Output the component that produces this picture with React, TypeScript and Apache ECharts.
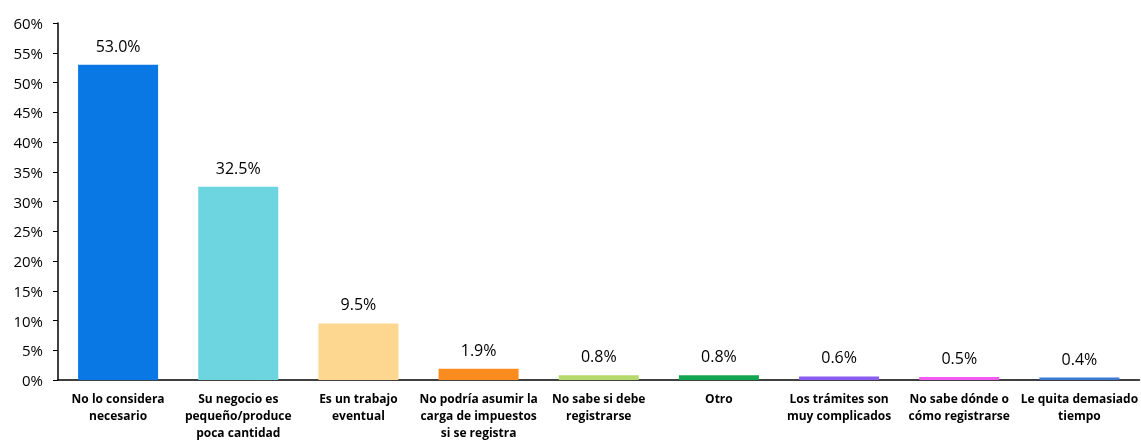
import React, { useEffect, useRef } from "react";
import * as echarts from "echarts";

const categories = [
  "No lo considera\nnecesario",
  "Su negocio es\npequeño/produce\npoca cantidad",
  "Es un trabajo\neventual",
  "No podría asumir la\ncarga de impuestos\nsi se registra",
  "No sabe si debe\nregistrarse",
  "Otro",
  "Los trámites son\nmuy complicados",
  "No sabe dónde o\ncómo registrarse",
  "Le quita demasiado\ntiempo",
];
const values = [53.0, 32.5, 9.5, 1.9, 0.8, 0.8, 0.6, 0.5, 0.4];
const colors = [
  "#0A78E4",
  "#6DD5E0",
  "#FDD78F",
  "#F98B1F",
  "#B5D96B",
  "#12A650",
  "#8A5CEF",
  "#F15BF0",
  "#3C78D0",
];

export default function App() {
  const ref = useRef<HTMLDivElement>(null);
  useEffect(() => {
    if (!ref.current) return;
    const chart = echarts.init(ref.current, undefined, { renderer: "svg" });
    chart.setOption({
      animation: false,
      grid: { left: 58, right: 0, top: 23, bottom: 58, containLabel: false },
      xAxis: {
        type: "category",
        data: categories,
        axisLine: { lineStyle: { color: "#000", width: 1.5 } },
        axisTick: { show: false },
        axisLabel: {
          interval: 0,
          fontFamily: "Open Sans",
          fontWeight: "bold",
          fontSize: 12,
          lineHeight: 17,
          color: "#000",
          margin: 10,
        },
      },
      yAxis: {
        type: "value",
        min: 0,
        max: 60,
        interval: 5,
        splitLine: { show: false },
        axisLine: { show: true, lineStyle: { color: "#000", width: 1.5 } },
        axisTick: { show: true, length: 5, lineStyle: { color: "#000" } },
        axisLabel: {
          formatter: "{value}%",
          fontFamily: "Open Sans",
          fontSize: 15,
          color: "#000",
          margin: 15,
        },
      },
      series: [
        {
          type: "bar",
          barWidth: 80,
          data: values.map((v, i) => ({ value: v, itemStyle: { color: colors[i] } })),
          label: {
            show: true,
            position: "top",
            distance: 11,
            formatter: (p: any) => p.value.toFixed(1) + "%",
            fontFamily: "Open Sans",
            fontSize: 16,
            color: "#000",
          },
        },
      ],
    });
    return () => chart.dispose();
  }, []);
  return (
    <div
      ref={ref}
      style={{ position: "fixed", left: 0, top: 0, width: 1141, height: 441 }}
    />
  );
}
